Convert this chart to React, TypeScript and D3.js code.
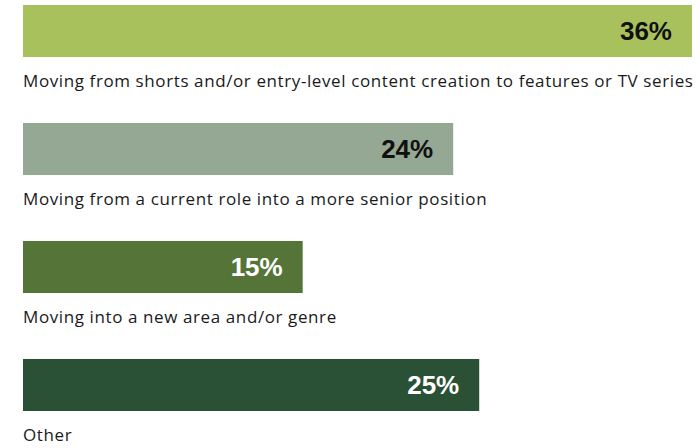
import { useRef, useEffect } from 'react';
import * as d3 from 'd3';

const categories = [
  'Moving from shorts and/or entry-level content creation to features or TV series',
  'Moving from a current role into a more senior position',
  'Moving into a new area and/or genre',
  'Other',
];
// bar lengths; the printed labels are rounded
const values = [36, 23.15, 15.05, 24.55];
const valueLabels = ['36%', '24%', '15%', '25%'];
const barColors = ['#a9c15d', '#94a893', '#557438', '#2a5035'];
const labelColors = ['#111111', '#111111', '#ffffff', '#ffffff'];

const width = 700;
const height = 448;
const font = '"Liberation Sans", Arial, sans-serif';
const catFont = '"Open Sans", sans-serif';

export default function App() {
  const svgRef = useRef<SVGSVGElement>(null);

  useEffect(() => {
    document.body.style.margin = '0';
    const svg = d3.select(svgRef.current);
    svg.selectAll('*').remove();

    const x = d3.scaleLinear().domain([0, 36]).range([23, 692]);
    const y = d3.scaleBand<string>().domain(categories).range([5, 411]).paddingInner(0.559).paddingOuter(0);
    const bw = y.bandwidth();

    const g = svg.append('g');

    const rows = g.selectAll('g.row').data(categories).join('g').attr('class', 'row');

    rows.append('rect')
      .attr('x', x(0))
      .attr('y', (d) => y(d)!)
      .attr('width', (_, i) => x(values[i]) - x(0))
      .attr('height', bw)
      .attr('fill', (_, i) => barColors[i]);

    rows.append('text')
      .attr('x', (_, i) => x(values[i]) - 20)
      .attr('y', (d) => y(d)! + bw / 2 + 9)
      .attr('text-anchor', 'end')
      .attr('font-family', font)
      .attr('font-size', '26px')
      .attr('font-weight', 'bold')
      .attr('fill', (_, i) => labelColors[i])
      .text((_, i) => valueLabels[i]);

    rows.append('text')
      .attr('x', x(0))
      .attr('y', (d) => y(d)! + bw + 30)
      .attr('font-family', catFont)
      .attr('font-size', '17px')
      .attr('letter-spacing', '0.6px')
      .attr('fill', '#1a1a1a')
      .text((d) => d);
  }, []);

  return <svg ref={svgRef} width={width} height={height} viewBox={`0 0 ${width} ${height}`} style={{ display: 'block' }} />;
}
